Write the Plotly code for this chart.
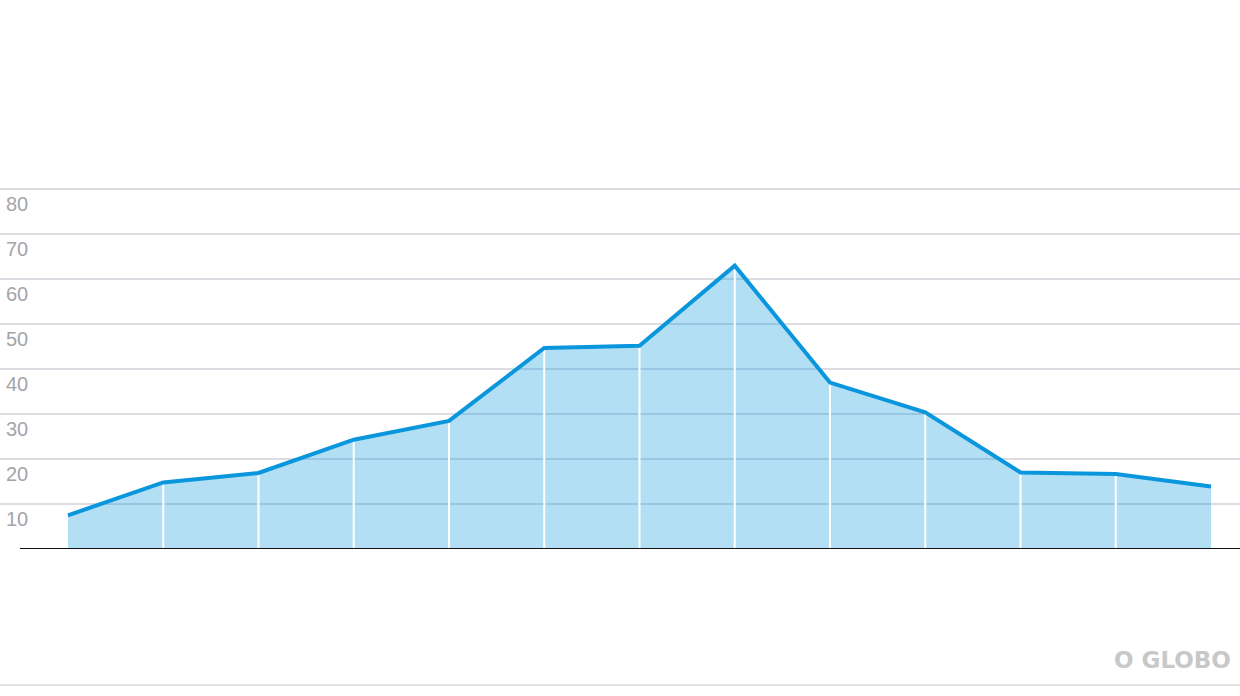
import plotly.graph_objects as go

# Data
x_idx = list(range(13))
values = [7.5, 14.8, 16.9, 24.3, 28.5, 44.7, 45.2, 63.0, 37.0, 30.4, 17.0, 16.7, 13.9]
tick_vals = [10, 20, 30, 40, 50, 60, 70, 80]
tick_labels = ["10", "20", "30", "40", "50", "60", "70", "80"]
logo_text = "O GLOBO"

W, H = 1240, 696
top_px, base_px = 187, 549
y_max = 80.5
x0_px, step_px = 68, 95.25
x_range = [-x0_px / step_px, (W - x0_px) / step_px]

def py(px):  # pixel -> paper y
    return (base_px - px) / (base_px - top_px)

fig = go.Figure()

# filled area
fig.add_trace(go.Scatter(
    x=x_idx, y=values, mode="lines", line=dict(width=0, color="rgba(0,0,0,0)"),
    fill="tozeroy", fillcolor="rgba(0,150,220,0.30)", hoverinfo="skip", showlegend=False))

# white vertical separators at interior points
vx, vy = [], []
for i, v in zip(x_idx[1:-1], values[1:-1]):
    vx += [i, i, None]
    vy += [0, v, None]
fig.add_trace(go.Scatter(x=vx, y=vy, mode="lines", line=dict(color="white", width=2),
                         hoverinfo="skip", showlegend=False))

# main line
fig.add_trace(go.Scatter(x=x_idx, y=values, mode="lines",
                         line=dict(color="#0a96dc", width=4), showlegend=False))

# tick labels below gridlines
for v, t in zip(tick_vals, tick_labels):
    fig.add_annotation(x=4 / W, xref="paper", y=v, yref="y", text=t, showarrow=False,
                       xanchor="left", yanchor="middle", yshift=-15,
                       font=dict(family="Liberation Sans, Arial", size=20, color="#a4a4aa"))

# baseline
fig.add_shape(type="line", xref="paper", yref="y", x0=20 / W, x1=1, y0=0, y1=0,
              line=dict(color="#111111", width=2), layer="above")

# bottom rule
fig.add_shape(type="line", xref="paper", yref="paper", x0=0, x1=1,
              y0=py(685), y1=py(685), line=dict(color="#e2e2e2", width=2))

# logo
fig.add_annotation(x=1233 / W, xref="paper", y=py(660), yref="paper", text="<b>" + logo_text + "</b>",
                   showarrow=False, xanchor="right", yanchor="middle",
                   font=dict(family="DejaVu Sans", size=23, color="#c8c8c8"))

fig.update_layout(
    width=W, height=H,
    margin=dict(l=0, r=0, t=top_px, b=H - base_px, pad=0),
    paper_bgcolor="white", plot_bgcolor="white",
    xaxis=dict(range=x_range, visible=False, fixedrange=True),
    yaxis=dict(range=[0, y_max], tickvals=tick_vals, showticklabels=False,
               showgrid=True, gridcolor="#dcdce2", gridwidth=2, zeroline=False,
               showline=False, ticks="", fixedrange=True),
    showlegend=False,
)

fig.write_html("out.html", config={"displayModeBar": False},
               post_script="document.body.style.margin='0';document.body.style.overflow='hidden';")
